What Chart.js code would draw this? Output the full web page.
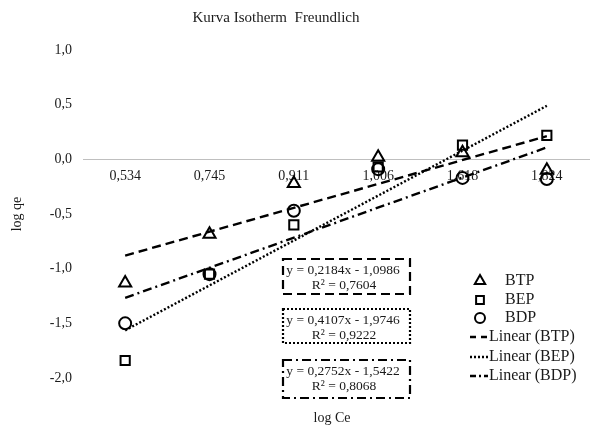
<!DOCTYPE html>
<html lang="id">
<head>
  <meta charset="UTF-8" />
  <title>Kurva Isotherm Freundlich</title>
  <script src="https://cdn.jsdelivr.net/npm/chart.js"></script>
  <style>
    body {
      margin: 0;
      padding: 0;
      background: #ffffff;
      overflow: hidden;
    }

    .chart-container {
      width: 598px;
      height: 430px;
    }
  </style>
</head>

<body>
  <div class="chart-container">
    <canvas id="isothermChart" width="598" height="430"></canvas>
  </div>

  <script>
    // Data
    const categories = ['0,534', '0,745', '0,911', '1,006', '1,618', '1,824'];
    const seriesNames = ['BTP', 'BEP', 'BDP'];
    const btpValues = [-1.13, -0.685, -0.22, 0.02, 0.06, -0.10];
    const bepValues = [-1.84, -1.05, -0.60, -0.07, 0.13, 0.22];
    const bdpValues = [-1.50, -1.05, -0.47, -0.09, -0.17, -0.18];

    // Trendline equations as printed in the chart (x = 1..6)
    const trendSlopes = [0.2184, 0.4107, 0.2752];
    const trendIntercepts = [-1.0986, -1.9746, -1.5422];
    const trendR2 = ['0,7604', '0,9222', '0,8068'];

    const yMin = -2.0;
    const yMax = 1.0;
    const yStep = 0.5;

    const serif = '"Liberation Serif", "Times New Roman", serif';
    const textColor = '#1a1a1a';

    const markerStyles = ['triangle', 'rect', 'circle'];
    const markerRadius = [7, 6.5, 6];
    const trendDashes = [[9, 5], [2, 2], [9, 4, 2, 4]];

    function comma(v, digits) {
      if (Math.abs(v) < 1e-9) v = 0;
      return v.toFixed(digits).replace('.', ',');
    }

    // trendline only at first and last category, gap spanned
    function trendData(i) {
      const n = categories.length;
      const data = new Array(n).fill(null);
      data[0] = trendSlopes[i] * 1 + trendIntercepts[i];
      data[n - 1] = trendSlopes[i] * n + trendIntercepts[i];
      return data;
    }

    const seriesValues = [btpValues, bepValues, bdpValues];

    const datasets = [];
    seriesValues.forEach(function (values, i) {
      datasets.push({
        label: seriesNames[i],
        data: values,
        showLine: false,
        pointStyle: markerStyles[i],
        pointRadius: markerRadius[i],
        pointBorderWidth: 2,
        pointBorderColor: '#000',
        pointBackgroundColor: 'rgba(0,0,0,0)',
        order: 1
      });
    });
    seriesValues.forEach(function (values, i) {
      datasets.push({
        label: 'Linear (' + seriesNames[i] + ')',
        data: trendData(i),
        spanGaps: true,
        borderColor: '#000',
        borderWidth: 2.4,
        borderDash: trendDashes[i],
        pointRadius: 0,
        fill: false,
        order: 2
      });
    });

    // Boxes with the trendline equations, plus title, x title and legend
    const annotationPlugin = {
      id: 'annotations',
      afterDraw: function (chart) {
        const ctx = chart.ctx;
        ctx.save();
        ctx.fillStyle = textColor;
        ctx.textBaseline = 'middle';

        // title
        ctx.font = '15px ' + serif;
        ctx.textAlign = 'center';
        ctx.fillText('Kurva Isotherm  Freundlich', 276, 18);

        // x axis title
        ctx.font = '14px ' + serif;
        ctx.fillText('log Ce', 332, 418);

        // equation boxes
        const boxTops = [259, 309, 360];
        const boxHeights = [35, 34, 38];
        for (let i = 0; i < 3; i++) {
          const top = boxTops[i];
          ctx.strokeStyle = '#000';
          ctx.lineWidth = 2.2;
          ctx.setLineDash(trendDashes[i]);
          ctx.strokeRect(283, top, 127, boxHeights[i]);
          ctx.setLineDash([]);
          const eq = 'y = ' + comma(trendSlopes[i], 4) + 'x - ' + comma(Math.abs(trendIntercepts[i]), 4);
          ctx.font = '13.5px ' + serif;
          ctx.fillText(eq, 343, top + 11);
          ctx.fillText('R\u00b2 = ' + trendR2[i], 344, top + 26);
        }

        // legend
        const rowY = [281, 300, 318, 337, 357, 376];
        ctx.font = '16px ' + serif;
        ctx.textAlign = 'left';
        for (let i = 0; i < 3; i++) {
          ctx.save();
          ctx.lineWidth = 2;
          ctx.strokeStyle = '#000';
          ctx.fillStyle = 'rgba(0,0,0,0)';
          Chart.helpers.drawPoint(ctx, {
            pointStyle: markerStyles[i],
            radius: markerRadius[i] - 1,
            borderWidth: 2
          }, 480, rowY[i]);
          ctx.restore();
          ctx.fillText(seriesNames[i], 505, rowY[i]);
        }
        for (let i = 0; i < 3; i++) {
          const y = rowY[i + 3];
          ctx.lineWidth = 2.4;
          ctx.setLineDash(i === 1 ? [2, 2] : (i === 0 ? [6, 5] : [6, 3, 2, 3]));
          ctx.beginPath();
          ctx.moveTo(470, y);
          ctx.lineTo(488, y);
          ctx.stroke();
          ctx.setLineDash([]);
          ctx.fillText('Linear (' + seriesNames[i] + ')', 489, y);
        }
        ctx.restore();
      }
    };

    const ctx = document.getElementById('isothermChart').getContext('2d');
    const isothermChart = new Chart(ctx, {
      type: 'line',
      data: {
        labels: categories,
        datasets: datasets
      },
      options: {
        responsive: false,
        animation: false,
        layout: {
          padding: { top: 50, bottom: 52, left: 0, right: 1 }
        },
        scales: {
          x: {
            type: 'category',
            offset: true,
            position: { y: 0 },
            grid: { display: false, drawTicks: false },
            border: { display: true, color: '#bfbfbf', width: 1 },
            ticks: {
              color: textColor,
              font: { family: serif, size: 14 },
              padding: 9,
              maxRotation: 0,
              autoSkip: false
            }
          },
          y: {
            min: yMin,
            max: yMax,
            grid: { display: false, drawTicks: false },
            border: { display: false },
            ticks: {
              stepSize: yStep,
              color: textColor,
              font: { family: serif, size: 14 },
              padding: 11,
              callback: function (value) { return comma(value, 1); }
            },
            title: {
              display: true,
              text: 'log qe',
              color: textColor,
              font: { family: serif, size: 14 },
              padding: { top: 9, bottom: 0 }
            },
            afterFit: function (scale) { scale.width = 83; }
          }
        },
        plugins: {
          legend: { display: false },
          tooltip: { enabled: false },
          title: { display: false }
        }
      },
      plugins: [annotationPlugin]
    });
  </script>
</body>
</html>
